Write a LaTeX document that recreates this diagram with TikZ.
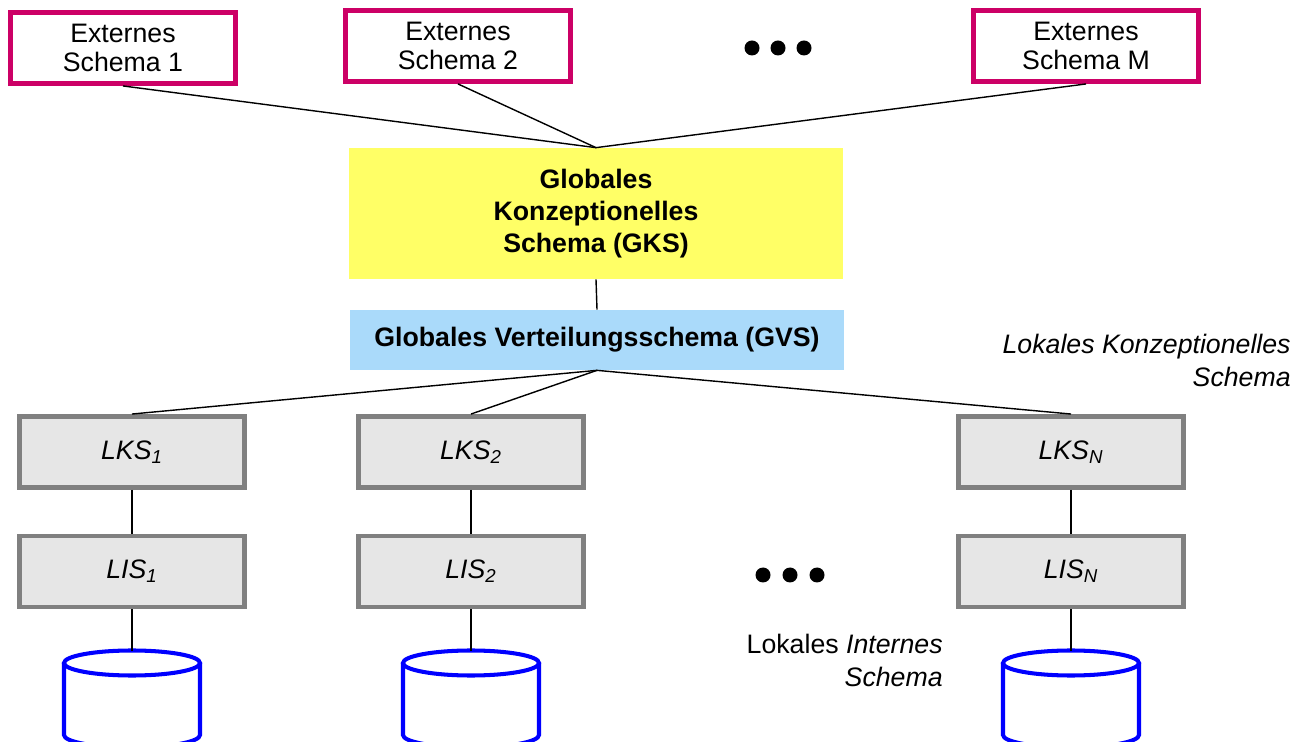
\documentclass[tikz,border=0pt]{standalone}
\usepackage{fontspec}
\setmainfont{Liberation Sans}
\usepackage{xcolor}
\definecolor{extrand}{RGB}{204,0,102}
\definecolor{gksgelb}{RGB}{255,255,102}
\definecolor{gvsblau}{RGB}{170,218,250}
\definecolor{lokgrau}{RGB}{230,230,230}
\definecolor{randgrau}{RGB}{128,128,128}

\begin{document}
\begin{tikzpicture}[x=0.02cm,y=-0.02cm]
				\tikzstyle{every node}+=[inner sep=0pt, font=\fontsize{15.2}{16.5}\selectfont]
				\tikzstyle{extern}=[draw=extrand, line width=2.8pt, minimum width=4.5cm, minimum height=1.42cm, align=center]
				\tikzstyle{lokal}=[draw=randgrau, fill=lokgrau, line width=2.8pt, minimum width=4.5cm, minimum height=1.42cm, font=\fontsize{15.2}{16.5}\selectfont\itshape]
				\tikzstyle{verb}=[black, line width=0.8pt]
				\tikzstyle{dbcyl}=[blue, line width=2.3pt]
				\useasboundingbox (0,0) rectangle (1308,742);
				\node [extern] (es1) at (123,48) {Externes\\Schema 1};
				\node [extern] (es2) at (458,46) {Externes\\Schema 2};
				\node [extern] (esm) at (1086,46) {Externes\\Schema M};
				\foreach \x in {752,778,804} \fill [black] (\x,48) circle (7.5);
				\node [fill=gksgelb, minimum width=9.88cm, minimum height=2.62cm, align=center, font=\fontsize{15.2}{18.2}\selectfont\bfseries] (gks) at (596,213.5) {Globales\\Konzeptionelles\\Schema (GKS)};
				\node [fill=gvsblau, minimum width=9.9cm, minimum height=1.2cm, font=\fontsize{15.2}{16.5}\selectfont\bfseries] (gvs) at (597,340) {Globales Verteilungsschema (GVS)};
				\node [lokal] (lks1) at (132,452) {LKS\textsubscript{1}};
				\node [lokal] (lks2) at (471,452) {LKS\textsubscript{2}};
				\node [lokal] (lksn) at (1071,452) {LKS\textsubscript{N}};
				\node [lokal] (lis1) at (132,571.5) {LIS\textsubscript{1}};
				\node [lokal] (lis2) at (471,571.5) {LIS\textsubscript{2}};
				\node [lokal] (lisn) at (1071,571.5) {LIS\textsubscript{N}};
				\foreach \x in {763,790,817} \fill [black] (\x,575) circle (7.5);
				\node [anchor=east, align=right, font=\fontsize{15.2}{18.8}\selectfont\itshape] (lkstext) at (1291,360) {Lokales Konzeptionelles\\Schema};
				\node [anchor=east, align=right, font=\fontsize{15.2}{18.8}\selectfont] (listext) at (943,660) {Lokales \textit{Internes}\\\textit{Schema}};
				\foreach \n/\x in {1/132,2/471,n/1071} {
					\draw [dbcyl] (\x,663) ellipse (68 and 12.5);
					\draw [dbcyl] (\x-68,663) -- (\x-68,735) arc [start angle=180, end angle=0, x radius=68, y radius=12.5] -- (\x+68,663);
					\coordinate (db\n) at (\x,650.5);
				}
				\foreach \n in {es1,es2,esm} \draw [verb] (\n.south) -- (gks.north);
				\draw [verb] (gks.south) -- (gvs.north);
				\foreach \n in {lks1,lks2,lksn} \draw [verb] (gvs.south) -- (\n.north);
				\draw [verb] (lks1) -- (lis1);
				\draw [verb] (lks2) -- (lis2);
				\draw [verb] (lksn) -- (lisn);
				\draw [verb] (lis1.south) -- (db1);
				\draw [verb] (lis2.south) -- (db2);
				\draw [verb] (lisn.south) -- (dbn);
				\end{tikzpicture}
\end{document}
